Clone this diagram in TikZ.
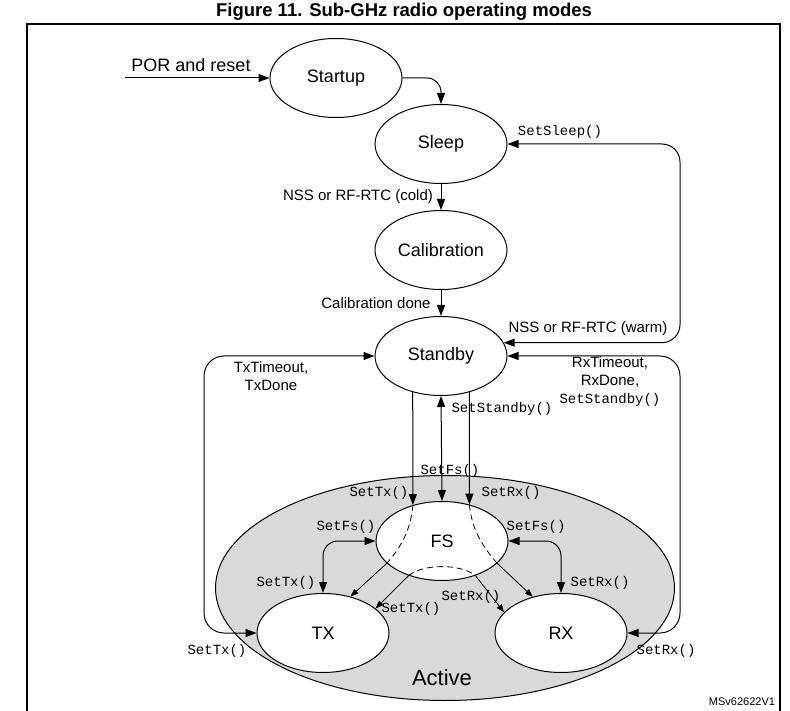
\documentclass[tikz,border=0pt]{standalone}
\usepackage{fontspec}
\setmainfont{Liberation Sans}
\setmonofont{Liberation Mono}
\usetikzlibrary{shapes.geometric,arrows.meta}
\definecolor{activegray}{RGB}{217,217,217}

\begin{document}
\begin{tikzpicture}[x=1pt,y=-1pt,line width=1pt,
    >={Triangle[length=11pt,width=8pt]},
    mode/.style={draw,ellipse,fill=white,minimum width=132pt,minimum height=79pt,inner sep=0pt,font=\fontsize{18}{20}\selectfont},
    lbl/.style={font=\fontsize{15}{18}\selectfont,inner sep=0pt},
    cmd/.style={font=\ttfamily\fontsize{14}{18}\selectfont,inner sep=0pt},
    thinarrow/.style={line width=0.8pt,>={Triangle[length=8pt,width=6pt]}},
    hidden/.style={dash pattern=on 6pt off 4pt,line width=0.8pt}]
            \useasboundingbox (0,0) rectangle (790,711);
            \node[font=\bfseries\fontsize{18.5}{20}\selectfont] (title) at (404,12) {Figure 11. Sub-GHz radio operating modes};
            \draw[line width=1.2pt] (27,711) -- (27,24) -- (780,24) -- (780,711);
            \node[draw,ellipse,fill=activegray,minimum width=459pt,minimum height=225pt] (active) at (445,588) {};
            \node[font=\fontsize{22}{24}\selectfont] (activelbl) at (442,678) {Active};
            \node[mode] (startup) at (336,78) {Startup};
            \node[mode] (sleep) at (441,144) {Sleep};
            \node[mode] (calib) at (441,250) {Calibration};
            \node[mode] (standby) at (441,356) {Standby};
            \node[mode] (fs) at (442,541) {FS};
            \node[mode] (tx) at (323,633) {TX};
            \node[mode] (rx) at (561,633) {RX};
            \coordinate (por) at (125,78);
            \draw[->] (por) -- (startup.west);
            \node[lbl,font=\fontsize{18}{20}\selectfont] (porlbl) at (191,65) {POR and reset};
            \draw[->,rounded corners=14pt] (startup.east) -| (sleep.north);
            \draw[->] (sleep) -- (calib);
            \node[lbl] (coldlbl) at (358,197) {NSS or RF-RTC (cold)};
            \draw[->] (calib) -- (standby);
            \node[lbl] (caldone) at (376,303) {Calibration done};
            \draw[<->,rounded corners=18pt] (sleep.east) -- (680,144) |- (standby.12);
            \node[cmd] (sleepcmd) at (560,132) {SetSleep()};
            \node[lbl] (warmlbl) at (588,329) {NSS or RF-RTC (warm)};
            \draw[<->,rounded corners=20pt] (standby.west) -| (204,633) -- (tx.west);
            \draw[<->,rounded corners=20pt] (standby.east) -| (680,633) -- (rx.east);
            \node[lbl,align=center] (txdone) at (271,376) {TxTimeout,\\TxDone};
            \node[lbl,align=center] (rxdone) at (610,382) {RxTimeout,\\RxDone,\\{\ttfamily\fontsize{14}{18}\selectfont SetStandby()}};
            \node[cmd] (txcmdl) at (217,651) {SetTx()};
            \node[cmd] (rxcmdr) at (666,651) {SetRx()};
            \draw[->] (standby.232) -- (fs.129);
            \draw[<->] (standby.south) -- (fs.north);
            \draw[->] (standby.308) -- (fs.53);
            \draw[hidden] (fs.129) .. controls +(-2,25) and +(14,-16) .. (fs.202);
            \draw[thinarrow,->] (fs.202) -- (tx.53);
            \draw[hidden] (fs.53) .. controls +(2,25) and +(-14,-16) .. (fs.338);
            \draw[thinarrow,->] (fs.338) -- (rx.128);
            \draw[hidden] (fs.226) .. controls +(15,-12) and +(-15,-12) .. (fs.314);
            \draw[thinarrow,->] (fs.226) -- (tx.25);
            \draw[thinarrow,->] (fs.314) -- (rx.160);
            \draw[<->,rounded corners=15pt] (fs.west) -| (tx.north);
            \draw[<->,rounded corners=15pt] (fs.east) -| (rx.north);
            \node[cmd] (txcmd) at (379,493) {SetTx()};
            \node[cmd] (fscmd) at (450,471) {SetFs()};
            \node[cmd] (rxcmd) at (511,493) {SetRx()};
            \node[cmd] (stbycmd) at (502,409) {SetStandby()};
            \node[cmd] (fscmdl) at (346,527) {SetFs()};
            \node[cmd] (fscmdr) at (536,527) {SetFs()};
            \node[cmd] (txcmdm) at (286,583) {SetTx()};
            \node[cmd] (rxcmdm) at (600,583) {SetRx()};
            \node[cmd] (txcmdb) at (411,609) {SetTx()};
            \node[cmd] (rxcmdb) at (471,597) {SetRx()};
            \node[font=\fontsize{11}{12}\selectfont] (ref) at (742,702) {MSv62622V1};
        \end{tikzpicture}
\end{document}
